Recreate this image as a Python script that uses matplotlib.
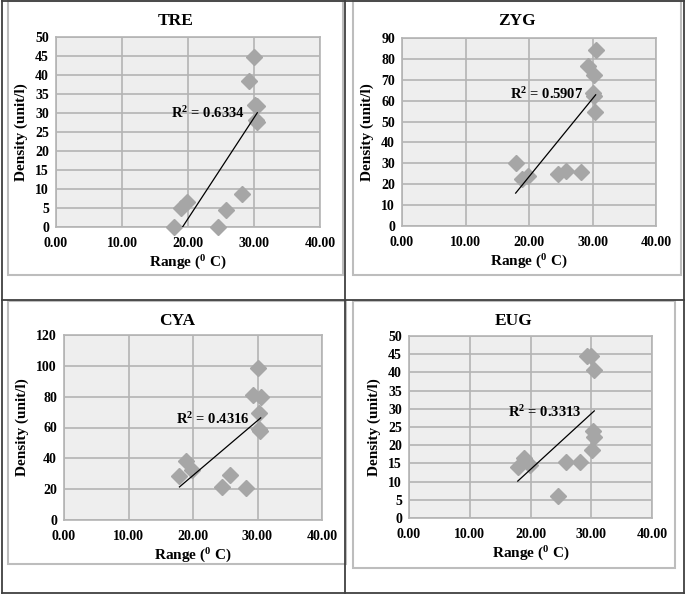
import numpy as np
import matplotlib.pyplot as plt
from matplotlib.patches import Rectangle
from matplotlib.lines import Line2D

# data
temp = [17.9, 18.9, 19.9, 24.5, 25.8, 28.2, 29.3, 30.0, 30.2, 30.5, 30.3, 30.4]

tre = [0.0, 5.1, 6.5, 0.0, 4.6, 8.8, 38.5, 44.7, 32.2, 31.8, 28.1, 27.5]
zyg = [30.3, 22.3, 23.9, 24.9, 26.2, 25.9, 76.4, 63.5, 62.0, 84.1, 72.3, 54.7]
cya = [28.5, 38.3, 32.4, 21.4, 29.2, 21.0, 80.9, 98.8, 59.2, 80.0, 69.2, 57.9]
eug = [14.0, 16.4, 14.6, 6.0, 15.3, 15.4, 44.6, 44.6, 18.7, 40.6, 23.9, 22.3]

names = ["TRE", "ZYG", "CYA", "EUG"]
r2_text = ["R$^2$ = 0.6334", "R$^2$ = 0.5907", "R$^2$ = 0.4316", "R$^2$ = 0.3313"]
ymax = [50, 90, 120, 50]
ystep = [5, 10, 20, 5]
xticks = [0, 10, 20, 30, 40]

W, H = 685, 594
fig = plt.figure(figsize=(W / 100, H / 100), dpi=100)
plt.rcParams['font.family'] = ['Liberation Serif', 'DejaVu Serif']
plt.rcParams['mathtext.fontset'] = 'custom'
plt.rcParams['mathtext.rm'] = 'Liberation Serif:bold'
plt.rcParams['mathtext.it'] = 'Liberation Serif:bold'

def fx(px):
    return px / W

def fy(py):
    return 1 - py / H

# outer table lines
for x0, y0, x1, y1 in [(1.5, 0.5, 683.5, 0.5), (1.5, 0.5, 1.5, 593), (345, 0.5, 345, 593),
                       (683.5, 0.5, 683.5, 593), (1.5, 299.5, 683.5, 299.5), (1.5, 593, 683.5, 593)]:
    fig.add_artist(Line2D([fx(x0), fx(x1)], [fy(y0), fy(y1)], color='#404040', lw=1.3))

# chart frames (left, top, right, bottom in px)
frames = [(8, 1, 343, 275), (353, 1, 681, 275), (8, 301, 346, 564), (353, 301, 675, 568)]
for l, t, r, b in frames:
    fig.add_artist(Rectangle((fx(l), fy(b)), fx(r - l), (b - t) / H, fill=False,
                             edgecolor='#bdbdbd', lw=1.5))

# plot areas
boxes = [(56, 37, 320, 227), (402, 38, 656, 226), (64, 335, 322, 520), (409, 336, 652, 518)]
title_y = [21, 21, 321, 321]
ys = [tre, zyg, cya, eug]
label_pos = [(0.575, 0.60), (0.57, 0.70), (0.575, 0.546), (0.56, 0.58)]

for i in range(4):
    l, t, r, b = boxes[i]
    ax = fig.add_axes([fx(l), fy(b), fx(r - l), (b - t) / H])
    ax.set_facecolor('#eeeeee')
    ax.set_xlim(0, 40)
    ax.set_ylim(0, ymax[i])
    ax.set_xticks(xticks)
    ax.set_xticklabels(["%.2f" % v for v in xticks])
    ax.set_yticks(np.arange(0, ymax[i] + 1, ystep[i]))
    ax.grid(True, color='#b4b4b4', lw=1.2)
    ax.set_axisbelow(True)
    for s in ax.spines.values():
        s.set_color('#b4b4b4')
        s.set_linewidth(1.2)
    ax.tick_params(length=0, labelsize=10)
    ax.tick_params(axis='x', pad=7)
    ax.tick_params(axis='y', pad=5)
    for lab in ax.get_xticklabels() + ax.get_yticklabels():
        lab.set_fontweight('bold')

    ax.plot(temp, ys[i], 'D', color='#a6a6a6', ms=8.5, mec='#a6a6a6', clip_on=False, zorder=3)

    k, c = np.polyfit(temp, ys[i], 1)
    xs = np.array([min(temp), max(temp)])
    ax.plot(xs, k * xs + c, color='black', lw=0.9, zorder=4)
    ax.text(label_pos[i][0], label_pos[i][1], r2_text[i], transform=ax.transAxes,
            fontsize=10.5, fontweight='bold', ha='center', va='center', zorder=5)

    fl, ft, fr, fb = frames[i]
    fig.text(fx((fl + fr) / 2), fy(title_y[i]), names[i], fontsize=12.5,
             fontweight='bold', ha='center', va='center')
    ax.set_xlabel("Range ($^0$ C)", fontsize=11, fontweight='bold', labelpad=3)
    ax.set_ylabel("Density (unit/l)", fontsize=11, fontweight='bold', labelpad=5)

fig.savefig("out.png", dpi=100)
